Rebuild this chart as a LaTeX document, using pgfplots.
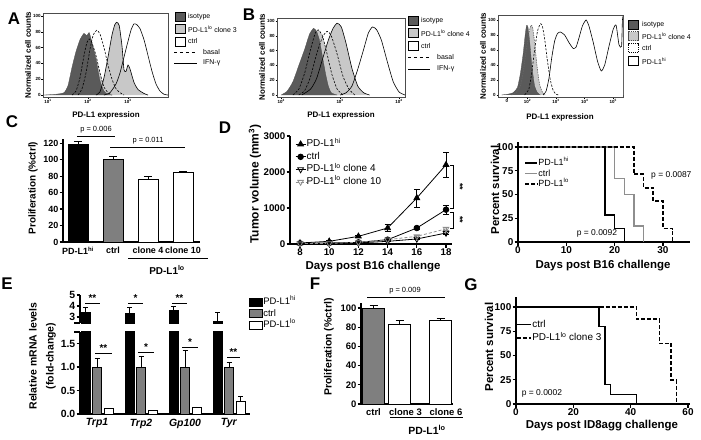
\documentclass[border=0pt]{standalone}
\usepackage{fontspec}
\setmainfont{Liberation Sans}
\usepackage{pgfplots}
\usepackage{pgfplotstable}
\pgfplotsset{compat=1.18}
\definecolor{dg}{HTML}{5A5A5A}
\definecolor{lg}{HTML}{C8C8C8}
\definecolor{mg}{HTML}{7F7F7F}
\definecolor{sg}{HTML}{8E8E8E}
\newcommand{\fs}[1]{\fontsize{#1}{#1}\selectfont}
\newcommand{\hi}{\textsuperscript{hi}}
\newcommand{\lo}{\textsuperscript{lo}}

\pgfplotsset{
 gp/.style={scale only axis, axis lines*=left, axis line style={line width=1.1pt,-},
   tick style={line width=1.1pt,black}, tick align=outside, major tick length=3.5bp,
   ticklabel style={font=\fs{9.5}\bfseries, inner sep=1bp}},
 flow/.style={scale only axis, axis line style={line width=0.5pt,black!70}, tick align=outside,
   xtick pos=bottom, ytick pos=left, major tick length=1.5bp, tick style={line width=0.4pt,black},
   ticklabel style={font=\fs{4.5}\bfseries, inner sep=0.7bp},
   ytick={0,20,40,60,80,100}, yticklabels={0,20,40,60,80,100}},
 hist/.style={smooth, tension=0.35},
}

% ---------------- A histograms (x = log10) ----------------
\pgfplotstableread{
u v
0.9 0
1.2 1
1.4 3
1.5 12
1.6 35
1.7 55
1.8 70
1.9 78
1.97 75
2.03 79
2.1 66
2.2 45
2.3 18
2.4 5
2.5 1
2.6 0
}\Aiso
\pgfplotstableread{
u v
1.6 0
1.7 5
1.8 22
1.9 50
1.97 66
2.03 71
2.1 66
2.2 50
2.3 28
2.4 10
2.5 3
2.6 0
}\AlBas
\pgfplotstableread{
u v
1.75 0
1.85 8
1.95 28
2.05 58
2.13 76
2.22 82
2.3 77
2.4 60
2.5 38
2.6 20
2.7 8
2.8 3
2.9 0
}\AcBas
\pgfplotstableread{
u v
2.2 0
2.3 4
2.4 22
2.5 48
2.6 76
2.67 89
2.72 92
2.78 88
2.85 62
2.9 32
2.95 30
3.0 38
3.05 33
3.15 16
3.25 7
3.4 2
3.5 0
}\AlIFN
\pgfplotstableread{
u v
2.4 0
2.55 3
2.7 14
2.8 28
2.9 48
3.0 68
3.08 83
3.15 90
3.22 89
3.3 84
3.4 70
3.5 50
3.6 30
3.7 14
3.8 5
3.9 1
4.0 0
}\AcIFN
% ---------------- B left ----------------
\pgfplotstableread{
u v
2.0 0
2.1 5
2.2 18
2.3 40
2.4 62
2.48 82
2.55 90
2.6 86
2.65 74
2.7 52
2.75 30
2.8 12
2.85 3
2.95 0
}\Biso
\pgfplotstableread{
u v
2.2 0
2.3 8
2.4 30
2.5 62
2.58 84
2.63 88
2.7 80
2.78 55
2.86 28
2.95 8
3.05 0
}\BlBas
\pgfplotstableread{
u v
2.3 0
2.4 6
2.5 25
2.6 55
2.7 78
2.78 86
2.85 80
2.95 55
3.05 25
3.15 8
3.25 0
}\BcBas
\pgfplotstableread{
u v
2.35 0
2.5 8
2.6 22
2.7 48
2.8 74
2.88 90
2.95 97
3.02 92
3.1 70
3.2 36
3.3 12
3.4 3
3.5 0
}\BlIFN
\pgfplotstableread{
u v
3.0 0
3.1 3
3.2 12
3.3 35
3.4 62
3.48 84
3.55 92
3.62 88
3.7 74
3.8 45
3.9 18
4.0 4
4.1 0
}\BcIFN
% ---------------- B right (biexponential position) ----------------
\pgfplotstableread{
u v
1.1 0
1.3 1
1.5 3
1.65 10
1.75 28
1.85 55
1.92 80
1.97 93
2.02 90
2.08 70
2.15 40
2.25 12
2.35 3
2.45 0
}\Ciso
\pgfplotstableread{
u v
1.45 0
1.6 3
1.75 12
1.85 30
1.95 58
2.05 82
2.12 93
2.18 90
2.25 70
2.33 40
2.42 15
2.52 4
2.62 0
}\Cfour
\pgfplotstableread{
u v
1.9 0
2.05 8
2.15 30
2.25 60
2.35 85
2.45 95
2.52 92
2.6 75
2.7 45
2.8 20
2.9 6
3.0 1
3.1 0
}\Cctrl
\pgfplotstableread{
u v
2.55 0
2.65 5
2.75 22
2.85 50
2.95 72
3.05 82
3.15 84
3.3 80
3.45 70
3.6 62
3.7 64
3.8 76
3.92 92
4.05 100
4.15 92
4.3 70
4.45 45
4.58 32
4.7 40
4.85 65
5.0 88
5.1 93
5.2 67
5.29 65
5.32 100
5.36 100
5.36 0
}\Chi

\begin{document}
\begin{tikzpicture}
\path[use as bounding box] (0bp,0bp) rectangle (701bp,-440bp);
\fill[white] (0bp,0bp) rectangle (701bp,-440bp);

% ================= A =================
\begin{axis}[flow, at={(43bp,-97bp)}, anchor=south west, width=125bp, height=84bp,
  xmin=0.875, xmax=4.0, ymin=-2.5, ymax=103.8,
  xtick={1,2,3}, xticklabels={10\textsuperscript{1},10\textsuperscript{2},10\textsuperscript{3}}]
\addplot[hist, fill=white, draw=none] table {\AcIFN};
\addplot[hist, fill=lg, draw=none] table {\AlIFN};
\addplot[hist, fill=lg, draw=none] table {\AlBas};
\addplot[hist, fill=dg, draw=black!70, line width=0.3pt] table {\Aiso};
\addplot[hist, draw=black, line width=0.6pt] table {\AcIFN};
\addplot[hist, draw=black, line width=0.6pt] table {\AlIFN};
\addplot[hist, draw=black, line width=0.6pt, dash pattern=on 2.2pt off 1.5pt] table {\AlBas};
\addplot[hist, draw=black, line width=0.6pt, dash pattern=on 2.2pt off 1.5pt] table {\AcBas};
\end{axis}

% ================= B left =================
\begin{axis}[flow, at={(277bp,-97bp)}, anchor=south west, width=128bp, height=79bp,
  xmin=1.93, xmax=4.1, ymin=-2.7, ymax=104,
  xtick={2,3,4}, xticklabels={10\textsuperscript{2},10\textsuperscript{3},10\textsuperscript{4}}]
\addplot[hist, fill=white, draw=none] table {\BcIFN};
\addplot[hist, fill=lg, draw=none] table {\BlIFN};
\addplot[hist, fill=lg, draw=none] table {\BlBas};
\addplot[hist, fill=dg, draw=black!70, line width=0.3pt] table {\Biso};
\addplot[hist, draw=black, line width=0.6pt] table {\BcIFN};
\addplot[hist, draw=black, line width=0.6pt] table {\BlIFN};
\addplot[hist, draw=black, line width=0.6pt, dash pattern=on 2.2pt off 1.5pt] table {\BlBas};
\addplot[hist, draw=black, line width=0.6pt, dash pattern=on 2.2pt off 1.5pt] table {\BcBas};
\end{axis}

% ================= B right =================
\begin{axis}[flow, at={(498bp,-97bp)}, anchor=south west, width=125bp, height=82bp,
  xmin=0.97, xmax=5.34, ymin=-2.7, ymax=106.7,
  xtick={1.28,2,3,4,5}, xticklabels={0,10\textsuperscript{2},10\textsuperscript{3},10\textsuperscript{4},10\textsuperscript{5}}]
\addplot[hist, fill=white, draw=none] table {\Chi};
\addplot[hist, fill=lg, draw=none] table {\Cfour};
\addplot[hist, fill=dg, draw=black!70, line width=0.3pt] table {\Ciso};
\addplot[hist, draw=black, line width=0.6pt] table {\Chi};
\addplot[hist, draw=black!60, line width=0.6pt, dash pattern=on 1.5pt off 1pt] table {\Cfour};
\addplot[hist, draw=black, line width=0.6pt, dash pattern=on 2.2pt off 1.5pt] table {\Cctrl};
\end{axis}

% ================= C =================
\begin{axis}[gp, at={(63bp,-242bp)}, anchor=south west, width=137bp, height=103bp,
  xmin=0, xmax=137, ymin=0, ymax=125,
  ytick={0,20,40,60,80,100,120}, yticklabels={0,20,40,60,80,100,120},
  xtick={15,50,85,120}, xticklabels={PD-L1\hi,ctrl,clone 4,clone 10},
  xtick style={draw=none}, ticklabel style={font=\fs{9}\bfseries}]
\addplot[ybar, bar shift=0pt, bar width=20bp, fill=black, draw=black, line width=0.8pt,
  error bars/.cd, y dir=plus, y explicit, error bar style={line width=0.9pt,black}, error mark options={rotate=90,mark size=4bp,line width=0.9pt,black}]
  coordinates {(15,118) +- (0,4)};
\addplot[ybar, bar shift=0pt, bar width=20bp, fill=mg, draw=black, line width=0.8pt,
  error bars/.cd, y dir=plus, y explicit, error bar style={line width=0.9pt,black}, error mark options={rotate=90,mark size=4bp,line width=0.9pt,black}]
  coordinates {(50,100) +- (0,4)};
\addplot[ybar, bar shift=0pt, bar width=20bp, fill=white, draw=black, line width=0.8pt,
  error bars/.cd, y dir=plus, y explicit, error bar style={line width=0.9pt,black}, error mark options={rotate=90,mark size=4bp,line width=0.9pt,black}]
  coordinates {(85,76) +- (0,3) (120,85) +- (0,0.6)};
\end{axis}

% ================= D tumor volume =================
\begin{axis}[gp, at={(290bp,-244bp)}, anchor=south west, width=162bp, height=108bp,
  xmin=7.315, xmax=18.41, ymin=0, ymax=3000, clip=false,
  xtick={8,10,12,14,16,18}, xticklabels={8,10,12,14,16,18},
  ytick={0,1000,2000,3000}, yticklabels={0,1000,2000,3000},
  ticklabel style={font=\fs{9.75}\bfseries},
  legend style={at={(0.031,0.972)}, anchor=north west, draw=none, fill=none, font=\fs{10},
    inner sep=0pt, row sep=2.6bp, nodes={inner sep=0.5bp, text height=7bp, text depth=2bp}},
  legend cell align=left,
  legend image code/.code={\draw[#1, mark repeat=2, mark phase=2] plot coordinates {(0bp,0bp) (5bp,0bp) (10bp,0bp)};}]
\addplot[black, line width=0.8pt, mark=triangle*, mark size=3.3bp, mark options={solid},
  error bars/.cd, y dir=both, y explicit, error bar style={line width=0.8pt,black}, error mark options={rotate=90,mark size=3bp,line width=0.8pt,black}]
  coordinates {(8,28) +- (0,8) (10,74) +- (0,15) (12,213) +- (0,30) (14,444) +- (0,100) (16,1278) +- (0,250) (18,2200) +- (0,340)};
\addplot[black, line width=0.8pt, mark=*, mark size=2.8bp, mark options={solid},
  error bars/.cd, y dir=both, y explicit, error bar style={line width=0.8pt,black}, error mark options={rotate=90,mark size=3bp,line width=0.8pt,black}]
  coordinates {(8,18) +- (0,0) (10,28) +- (0,5) (12,46) +- (0,15) (14,120) +- (0,25) (16,444) +- (0,40) (18,954) +- (0,130)};
\addplot[black, line width=0.8pt, mark=triangle, mark size=3.3bp, mark options={solid, rotate=180, fill=white},
  error bars/.cd, y dir=both, y explicit, error bar style={line width=0.8pt,black}, error mark options={rotate=90,mark size=3bp,line width=0.8pt,black}]
  coordinates {(8,10) +- (0,0) (10,15) +- (0,0) (12,30) +- (0,5) (14,74) +- (0,15) (16,140) +- (0,20) (18,305) +- (0,40)};
\addplot[sg, line width=0.8pt, dash pattern=on 3pt off 2pt, mark=triangle, mark size=3.3bp, mark options={solid, rotate=180, fill=white},
  error bars/.cd, y dir=both, y explicit, error bar style={line width=0.8pt,sg,solid}, error mark options={rotate=90,mark size=3bp,line width=0.8pt,sg,solid}]
  coordinates {(8,10) +- (0,0) (10,18) +- (0,0) (12,45) +- (0,5) (14,120) +- (0,15) (16,213) +- (0,30) (18,420) +- (0,40)};
\legend{PD-L1\hi, ctrl, PD-L1\lo{} clone 4, PD-L1\lo{} clone 10}
\end{axis}

% ================= D survival =================
\begin{axis}[gp, at={(518bp,-242bp)}, anchor=south west, width=172bp, height=99.75bp,
  xmin=0, xmax=35.6, ymin=0, ymax=105, clip=false,
  xtick={0,10,20,30}, xticklabels={0,10,20,30},
  ytick={0,25,50,75,100}, yticklabels={0,25,50,75,100},
  ticklabel style={font=\fs{10}\bfseries},
  legend style={at={(0.035,0.842)}, anchor=north west, draw=none, fill=none, font=\fs{9},
    inner sep=0pt, row sep=0.3bp, nodes={inner sep=0.5bp, text height=7bp, text depth=2bp}},
  legend cell align=left,
  legend image code/.code={\draw[#1] (0bp,0bp) -- (12bp,0bp);}]
\addplot[black, line width=1.6pt] coordinates {(0,100) (18,100) (18,28.6) (20,28.6) (20,14.3) (22,14.3) (22,0)};
\addplot[sg, line width=1.6pt] coordinates {(0,100) (20,100) (20,66.7) (22,66.7) (22,50) (24,50) (24,16.7) (26,16.7) (26,0)};
\addplot[black, line width=1.6pt, dash pattern=on 4pt off 2pt] coordinates {(0,100) (24,100) (24,71.4) (26,71.4) (26,57.1) (28,57.1) (28,42.9) (30,42.9) (30,14.3) (32,14.3) (32,0)};
\legend{PD-L1\hi, ctrl, PD-L1\lo}
\end{axis}

% ================= E (broken axis) =================
\begin{axis}[gp, at={(80bp,-414bp)}, anchor=south west, width=170bp, height=82.25bp,
  xmin=0, xmax=170, ymin=0, ymax=1.75,
  ytick={0,0.5,1,1.5}, yticklabels={0.0,0.5,1.0,1.5},
  xtick={17,61,105,149}, xticklabels={\textit{Trp1},\textit{Trp2},\textit{Gp100},\textit{Tyr}},
  xtick style={draw=none}, ticklabel style={font=\fs{10.5}\bfseries},
  legend style={at={(0.994,1.4225)}, anchor=north west, draw=none, fill=none, font=\fs{9.5},
    inner sep=0pt, row sep=1.5bp, nodes={inner sep=0.5bp, text height=7bp, text depth=2bp}},
  legend cell align=left]
\addplot[ybar, bar shift=0pt, bar width=9bp, fill=black, draw=black, line width=0.7pt,
  legend image code/.code={\draw[fill=black,draw=black,line width=0.6pt] (0bp,-4bp) rectangle (13bp,4bp);},
  error bars/.cd, y dir=plus, y explicit, error bar style={line width=0.8pt,black}, error mark options={rotate=90,mark size=2.5bp,line width=0.8pt,black}]
  coordinates {(5.5,3.4) +- (0,0.5) (49.5,3.3) +- (0,0.6) (93.5,3.6) +- (0,0.4) (137.5,2.6) +- (0,0.8)};
\addplot[ybar, bar shift=0pt, bar width=9bp, fill=mg, draw=black, line width=0.7pt,
  legend image code/.code={\draw[fill=mg,draw=black,line width=0.6pt] (0bp,-4bp) rectangle (13bp,4bp);},
  error bars/.cd, y dir=plus, y explicit, error bar style={line width=0.8pt,black}, error mark options={rotate=90,mark size=2.5bp,line width=0.8pt,black}]
  coordinates {(17,1.0) +- (0,0.19) (61,1.0) +- (0,0.22) (105,1.0) +- (0,0.35) (149,1.0) +- (0,0.1)};
\addplot[ybar, bar shift=0pt, bar width=9bp, fill=white, draw=black, line width=0.7pt,
  legend image code/.code={\draw[fill=white,draw=black,line width=0.6pt] (0bp,-4bp) rectangle (13bp,4bp);},
  error bars/.cd, y dir=plus, y explicit, error bar style={line width=0.8pt,black}, error mark options={rotate=90,mark size=2.5bp,line width=0.8pt,black}]
  coordinates {(28.5,0.11) +- (0,0) (72.5,0.08) +- (0,0) (116.5,0.15) +- (0,0) (160.5,0.27) +- (0,0.1)};
\legend{PD-L1\hi, ctrl, PD-L1\lo}
\end{axis}
\begin{axis}[gp, at={(80bp,-323bp)}, anchor=south west, width=170bp, height=28bp,
  xmin=0, xmax=170, ymin=2.45, ymax=5, axis x line=none,
  ytick={3,4,5}, yticklabels={3,4,5}, ticklabel style={font=\fs{10.5}\bfseries}]
\addplot[ybar, bar shift=0pt, bar width=9bp, fill=black, draw=black, line width=0.7pt,
  error bars/.cd, y dir=plus, y explicit, error bar style={line width=0.8pt,black}, error mark options={rotate=90,mark size=2.5bp,line width=0.8pt,black}]
  coordinates {(5.5,3.4) +- (0,0.5) (49.5,3.3) +- (0,0.6) (93.5,3.6) +- (0,0.4) (137.5,2.6) +- (0,0.8)};
\end{axis}

% ================= F =================
\begin{axis}[gp, at={(361bp,-404bp)}, anchor=south west, width=92bp, height=100.8bp,
  xmin=0, xmax=92, ymin=0, ymax=105,
  ytick={0,20,40,60,80,100}, yticklabels={0,20,40,60,80,100},
  xtick={12.5,44.5,85}, xticklabels={ctrl,clone 3,clone 6},
  xtick style={draw=none}, ticklabel style={font=\fs{9.5}\bfseries}]
\addplot[ybar, bar shift=0pt, bar width=22bp, fill=mg, draw=black, line width=0.8pt,
  error bars/.cd, y dir=plus, y explicit, error bar style={line width=0.9pt,black}, error mark options={rotate=90,mark size=4bp,line width=0.9pt,black}]
  coordinates {(12.5,100) +- (0,3)};
\addplot[ybar, bar shift=0pt, bar width=22bp, fill=white, draw=black, line width=0.8pt,
  error bars/.cd, y dir=plus, y explicit, error bar style={line width=0.9pt,black}, error mark options={rotate=90,mark size=4bp,line width=0.9pt,black}]
  coordinates {(38.5,83) +- (0,4) (79.5,87) +- (0,2)};
\end{axis}

% ================= G =================
\begin{axis}[gp, at={(516bp,-404bp)}, anchor=south west, width=174bp, height=106.7bp,
  xmin=0, xmax=60.7, ymin=0, ymax=110, clip=false,
  xtick={0,20,40,60}, xticklabels={0,20,40,60},
  ytick={0,25,50,75,100}, yticklabels={0,25,50,75,100},
  ticklabel style={font=\fs{10}\bfseries},
  legend style={at={(0,0.797)}, anchor=north west, draw=none, fill=none, font=\fs{10},
    inner sep=0pt, row sep=3bp, nodes={inner sep=0.5bp, text height=7.5bp, text depth=2bp}},
  legend cell align=left,
  legend image code/.code={\draw[#1] (0bp,0bp) -- (14bp,0bp);}]
\addplot[black, line width=1.6pt] coordinates {(0,100) (29,100) (29,80) (31,80) (31,20) (33,20) (33,10) (42,10) (42,0)};
\addplot[black, line width=1.6pt, dash pattern=on 4pt off 2pt] coordinates {(0,100) (42,100) (42,87.5) (50,87.5) (50,62.5) (54,62.5) (54,25) (56,25) (56,0)};
\addplot[black, line width=1.6pt, forget plot] coordinates {(0,100) (29,100) (29,80)};
\legend{ctrl, PD-L1\lo{} clone 3}
\end{axis}

% ================= annotations =================
\begin{scope}[x=1bp,y=-1bp]
% panel letters
\node[font=\fs{17}\bfseries] at (14,19) {A};
\node[font=\fs{17}\bfseries] at (249,15) {B};
\node[font=\fs{17}\bfseries] at (12,122) {C};
\node[font=\fs{17}\bfseries] at (225,128) {D};
\node[font=\fs{17}\bfseries] at (7,284) {E};
\node[font=\fs{17}\bfseries] at (315,284) {F};
\node[font=\fs{17}\bfseries] at (471,285) {G};

% flow labels
\node[font=\fs{8}\bfseries] at (106,115) {PD-L1 expression};
\node[rotate=90,font=\fs{8}\bfseries] at (28,55) {Normalized cell counts};
\node[font=\fs{8}\bfseries] at (341,115) {PD-L1 expression};
\node[rotate=90,font=\fs{8}\bfseries] at (262,57) {Normalized cell counts};
\node[font=\fs{8}\bfseries] at (560,117) {PD-L1 expression};
\node[rotate=90,font=\fs{8}\bfseries] at (483,56) {Normalized cell counts};

% A legend
\draw[fill=dg, line width=0.4pt] (175,12) rectangle (185,21);
\node[anchor=west,font=\fs{7},inner sep=0] at (188,16.5) {isotype};
\draw[fill=lg, line width=0.4pt] (175,24.5) rectangle (185,33.5);
\node[anchor=west,font=\fs{7},inner sep=0] at (188,29) {PD-L1\lo{} clone 3};
\draw[fill=white, line width=0.4pt] (175,37) rectangle (185,46);
\node[anchor=west,font=\fs{7},inner sep=0] at (188,41.5) {ctrl};
\draw[line width=0.9pt, dash pattern=on 3.5pt off 2.5pt] (174,52) -- (197,52);
\node[anchor=west,font=\fs{7},inner sep=0] at (203,52) {basal};
\draw[line width=0.9pt] (174,63) -- (197,63);
\node[anchor=west,font=\fs{7},inner sep=0] at (203,63) {IFN-γ};

% B left legend
\draw[fill=dg, line width=0.4pt] (408,16.5) rectangle (418,25.5);
\node[anchor=west,font=\fs{7},inner sep=0] at (421,21) {isotype};
\draw[fill=lg, line width=0.4pt] (408,28.5) rectangle (418,37.5);
\node[anchor=west,font=\fs{7},inner sep=0] at (421,33) {PD-L1\lo{} clone 4};
\draw[fill=white, line width=0.4pt] (408,41.5) rectangle (418,50.5);
\node[anchor=west,font=\fs{7},inner sep=0] at (421,46) {ctrl};
\draw[line width=0.9pt, dash pattern=on 3.5pt off 2.5pt] (408,57) -- (430,57);
\node[anchor=west,font=\fs{7},inner sep=0] at (437,57) {basal};
\draw[line width=0.9pt] (408,69) -- (430,69);
\node[anchor=west,font=\fs{7},inner sep=0] at (437,69) {IFN-γ};

% B right legend
\draw[fill=dg, line width=0.4pt] (628,20.5) rectangle (638,29.5);
\node[anchor=west,font=\fs{7},inner sep=0] at (642,25) {isotype};
\draw[fill=lg, draw=black!70, line width=0.5pt, dash pattern=on 1.2pt off 0.8pt] (628,31.5) rectangle (638,40.5);
\node[anchor=west,font=\fs{7},inner sep=0] at (642,36) {PD-L1\lo{} clone 4};
\draw[fill=white, line width=0.5pt, dash pattern=on 1pt off 1pt] (628,43.5) rectangle (638,52.5);
\node[anchor=west,font=\fs{7},inner sep=0] at (642,48) {ctrl};
\draw[fill=white, line width=0.4pt] (628,56.5) rectangle (638,65.5);
\node[anchor=west,font=\fs{7},inner sep=0] at (642,61) {PD-L1\hi};

% C annotations
\node[rotate=90,font=\fs{10}\bfseries] at (33,188) {Proliferation (\%ctrl)};
\draw[line width=0.8pt] (77,136) -- (115,136);
\node[font=\fs{7.5}] at (96,129.5) {p = 0.006};
\draw[line width=0.8pt] (110,147) -- (185,147);
\node[font=\fs{7.5}] at (148,141) {p = 0.011};
\draw[line width=0.8pt] (128,258) -- (208,258);
\node[font=\fs{10}\bfseries] at (167,270) {PD-L1\lo};

% D annotations
\node[rotate=90,font=\fs{12}\bfseries] at (255,184) {Tumor volume (mm\textsuperscript{3})};
\node[font=\fs{11.5}\bfseries] at (373,267) {Days post B16 challenge};
\draw[line width=0.8pt] (450,165) -- (453,165) -- (453,208) -- (450,208);
\node[rotate=-90,font=\fs{9}\bfseries] at (460,187) {**};
\draw[line width=0.8pt] (450,212) -- (453,212) -- (453,228) -- (450,228);
\node[rotate=-90,font=\fs{9}\bfseries] at (460,220) {**};

% D survival annotations
\node[rotate=90,font=\fs{11.5}\bfseries] at (495,190) {Percent survival};
\node[font=\fs{11.5}\bfseries] at (603,266) {Days post B16 challenge};
\node[anchor=west,font=\fs{8.5},inner sep=0] at (651,175) {p = 0.0087};
\node[font=\fs{8.5}] at (597,233) {p = 0.0092};

% E annotations
\node[rotate=90,font=\fs{10.5}\bfseries] at (33,356) {Relative mRNA levels};
\node[rotate=90,font=\fs{10.5}\bfseries] at (51,356) {(fold-change)};
\draw[line width=1.1pt] (74,323) -- (80,323);
\draw[line width=1.1pt] (74,332) -- (80,332);
\draw[line width=0.9pt] (85,303) -- (100,303);
\node[font=\fs{10}\bfseries] at (92.5,298) {**};
\draw[line width=0.9pt] (128,303) -- (143,303);
\node[font=\fs{10}\bfseries] at (135.5,298) {*};
\draw[line width=0.9pt] (172,303) -- (187,303);
\node[font=\fs{10}\bfseries] at (179.5,298) {**};
\draw[line width=0.9pt] (95,353) -- (112,353);
\node[font=\fs{10}\bfseries] at (103.5,348) {**};
\draw[line width=0.9pt] (138,352) -- (154,352);
\node[font=\fs{10}\bfseries] at (146,347) {*};
\draw[line width=0.9pt] (182,347) -- (198,347);
\node[font=\fs{10}\bfseries] at (190,342) {*};
\draw[line width=0.9pt] (227,357) -- (240,357);
\node[font=\fs{10}\bfseries] at (233.5,352) {**};

% F annotations
\node[rotate=90,font=\fs{10.5}\bfseries] at (329,347) {Proliferation (\%ctrl)};
\draw[line width=0.8pt] (367,297) -- (445,297);
\node[font=\fs{7.5}] at (405,291) {p = 0.009};
\draw[line width=0.8pt] (390,417) -- (463,417);
\node[font=\fs{10.5}\bfseries] at (427,430) {PD-L1\lo};

% G annotations
\node[rotate=90,font=\fs{11.5}\bfseries] at (489,347) {Percent survival};
\node[font=\fs{11.5}\bfseries] at (602,426) {Days post ID8agg challenge};
\node[font=\fs{8.5}] at (542,393) {p = 0.0002};
\end{scope}
\end{tikzpicture}
\end{document}
